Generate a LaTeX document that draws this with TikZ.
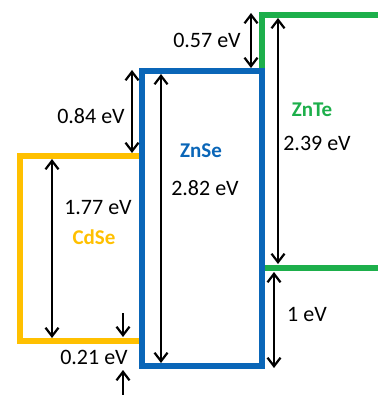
\documentclass[tikz,border=0pt]{standalone}
\usepackage{fontspec}
\setmainfont{Carlito}
\usetikzlibrary{arrows.meta}
\definecolor{znse}{HTML}{0A66B8}
\definecolor{cdse}{HTML}{FFC000}
\definecolor{znte}{HTML}{1DAF4B}
\begin{document}
\begin{tikzpicture}[x=1pt,y=-1pt,
  band/.style={line width=6pt},
  dim/.style={line width=2.2pt,{Straight Barb[length=8.5pt,width=13pt]}-{Straight Barb[length=8.5pt,width=13pt]}},
  sdim/.style={line width=2.2pt,-{Straight Barb[length=8.5pt,width=13pt]}},
  lbl/.style={font=\fontsize{22}{24}\selectfont, inner sep=0pt},
  matlbl/.style={font=\fontsize{21}{24}\selectfont\bfseries, inner sep=0pt}]
\useasboundingbox (0,0) rectangle (377,395);
% bands
\draw[band,cdse] (142,156) -- (20,156) -- (20,341) -- (142,341);
\draw[band,znse] (142,71) rectangle (262,366);
\draw[band,znte] (262,68) -- (262,15) -- (380,15);
\draw[band,znte] (265,268) -- (380,268);
% coordinates
\coordinate (a57t) at (251,13);   \coordinate (a57b) at (251,68);
\coordinate (a39t) at (278,18);   \coordinate (a39b) at (278,264);
\coordinate (a1t)  at (274,272);  \coordinate (a1b)  at (274,368);
\coordinate (a84t) at (132,70);   \coordinate (a84b) at (132,153);
\coordinate (a82t) at (161,74);   \coordinate (a82b) at (161,363);
\coordinate (a77t) at (52,159);   \coordinate (a77b) at (52,338);
\coordinate (a21s) at (123,313);  \coordinate (a21e) at (123,337);
\coordinate (a21u) at (123,396);  \coordinate (a21f) at (123,370);
% arrows
\draw[dim] (a57t) -- (a57b);
\draw[dim] (a39t) -- (a39b);
\draw[dim] (a1t) -- (a1b);
\draw[dim] (a84t) -- (a84b);
\draw[dim] (a82t) -- (a82b);
\draw[dim] (a77t) -- (a77b);
\draw[sdim] (a21s) -- (a21e);
\draw[sdim] (a21u) -- (a21f);
% labels
\node[lbl] (l57) at (207,40) {0.57 eV};
\node[lbl] (l84) at (91,116) {0.84 eV};
\node[matlbl,text=znse] (nznse) at (201,151) {ZnSe};
\node[lbl] (l82) at (205,188) {2.82 eV};
\node[matlbl,text=znte] (nznte) at (312,110) {ZnTe};
\node[lbl] (l39) at (317,143) {2.39 eV};
\node[lbl] (l1) at (307,314) {1 eV};
\node[lbl] (l77) at (98,208) {1.77 eV};
\node[matlbl,text=cdse] (ncdse) at (94,237) {CdSe};
\node[lbl] (l21) at (94,357) {0.21 eV};
\end{tikzpicture}
\end{document}
